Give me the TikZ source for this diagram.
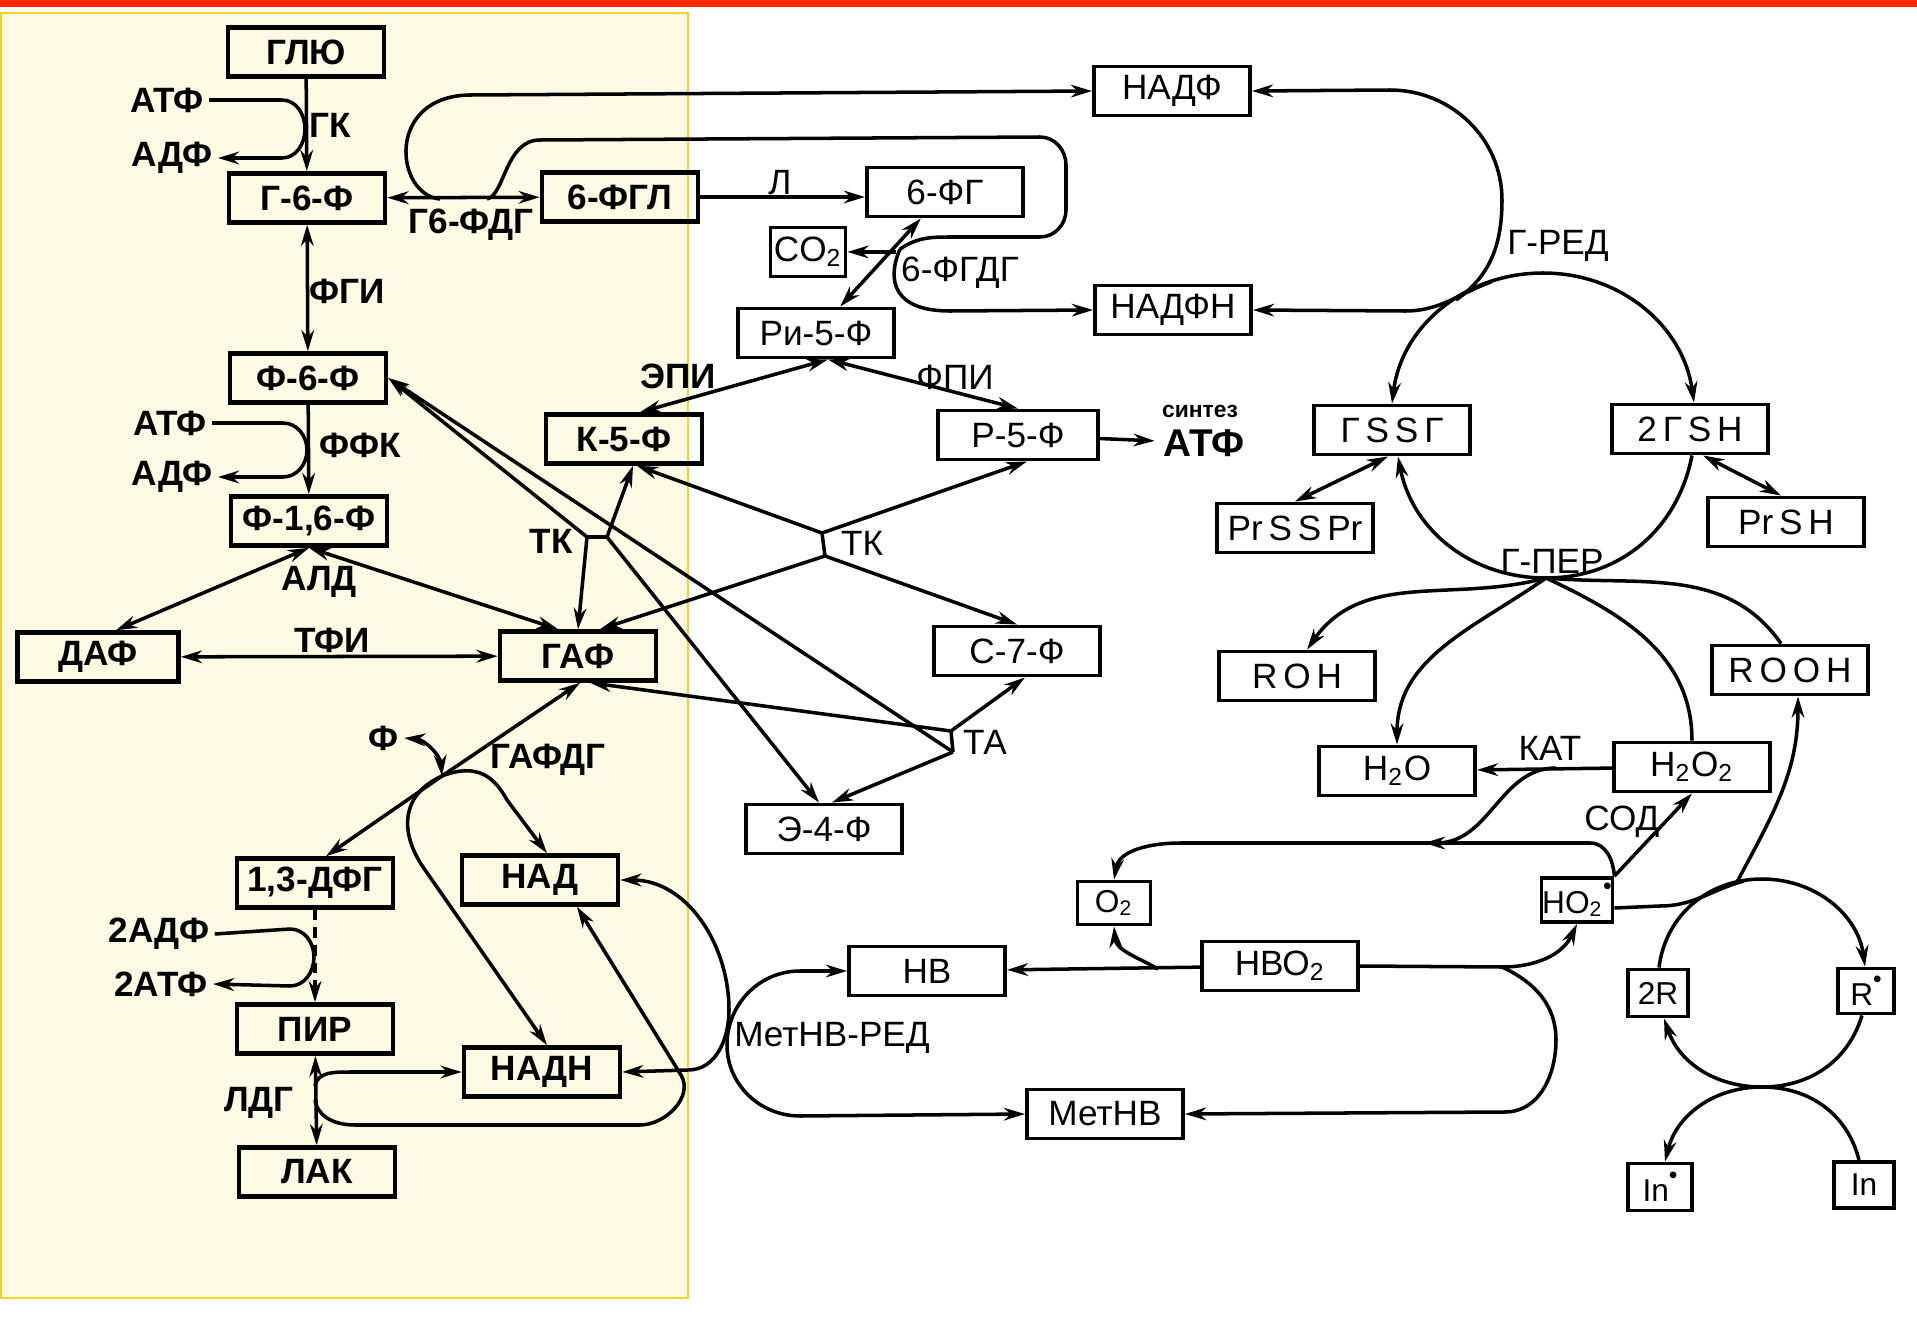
\documentclass[tikz,border=0pt]{standalone}
\usepackage{fontspec}
\setmainfont{Liberation Sans}
\usetikzlibrary{arrows.meta,calc}
\definecolor{paper}{RGB}{252,250,226}
\definecolor{frame}{RGB}{246,210,40}
\definecolor{topbar}{RGB}{255,40,0}
\newcommand{\rad}{\raisebox{1.1ex}{\scriptsize\textbullet}}
\begin{document}
\begin{tikzpicture}[x=0.01cm,y=-0.01cm,line width=1pt,>={Stealth[length=6pt,width=3.6pt]}]
  \useasboundingbox (0,0) rectangle (1917,1321);
  \fill[topbar] (0,0) rectangle (1917,7);
  \filldraw[fill=paper,draw=frame,line width=0.8pt] (1,13) rectangle (688,1298);
  \begin{scope}[every node/.style={draw,line width=1.3pt,font=\bfseries\fontsize{10}{12}\selectfont,minimum width=1.56cm,minimum height=0.49cm,inner sep=0pt}]
  \node (glu) at (306,52) {ГЛЮ};
  \node (g6f) at (307,198) {Г-6-Ф};
  \node (fgl) at (620,197) {6-ФГЛ};
  \node (f6f) at (308,378) {Ф-6-Ф};
  \node (k5f) at (624,439) {К-5-Ф};
  \node (f16f) at (309,521) {Ф-1,6-Ф};
  \node[minimum width=1.61cm] (daf) at (98,657) {ДАФ};
  \node (gaf) at (578,656) {ГАФ};
  \node (dfg) at (315,883) {1,3-ДФГ};
  \node (nad) at (540,880) {НАД};
  \node (pir) at (315,1029) {ПИР};
  \node (nadh) at (542,1072) {НАДН};
  \node (lak) at (317,1172) {ЛАК};
  \end{scope}
  \begin{scope}[every node/.style={draw,line width=1.1pt,font=\fontsize{10}{12}\selectfont,minimum width=1.56cm,minimum height=0.49cm,inner sep=0pt}]
  \node (nadf) at (1172,91) {НАДФ};
  \node (fg) at (945,192) {6-ФГ};
  \node[minimum width=0.75cm] (co2) at (808,252) {CO\textsubscript{2}};
  \node (ri5f) at (816,333) {Ри-5-Ф};
  \node (nadfh) at (1173,310) {НАДФН};
  \node[minimum width=1.6cm] (r5f) at (1018,435) {Р-5-Ф};
  \node[minimum width=1.66cm] (s7f) at (1017,651) {С-7-Ф};
  \node (e4f) at (824,829) {Э-4-Ф};
  \node (gssg) at (1392,430) {Г\,S\,S\,Г};
  \node (gsh) at (1690,429) {2\,Г\,S\,H};
  \node (prss) at (1295,528) {Pr\,S\,S\,Pr};
  \node (prsh) at (1786,522) {Pr\,S\,H};
  \node (roh) at (1297,676) {R\,O\,H};
  \node (rooh) at (1790,670) {R\,O\,O\,H};
  \node (h2o) at (1397,771) {H\textsubscript{2}O};
  \node (h2o2) at (1692,767) {H\textsubscript{2}O\textsubscript{2}};
  \node[minimum width=0.73cm,minimum height=0.43cm,font=\fontsize{9}{10}\selectfont] (o2) at (1114,903) {O\textsubscript{2}};
  \node[minimum width=0.71cm,minimum height=0.44cm,font=\fontsize{9}{10}\selectfont] (ho2) at (1577,900) {HO\textsubscript{2}\rad};
  \node (hb) at (927,971) {НВ};
  \node (hbo2) at (1280,966) {НВО\textsubscript{2}};
  \node (methb) at (1105,1114) {МетНВ};
  \node[minimum width=0.6cm,minimum height=0.47cm,font=\fontsize{9}{10}\selectfont] (r2) at (1658,993) {2R};
  \node[minimum width=0.56cm,minimum height=0.45cm,font=\fontsize{9}{10}\selectfont] (rr) at (1866,991) {R\rad};
  \node[minimum width=0.64cm,minimum height=0.47cm,font=\fontsize{9}{10}\selectfont] (ini) at (1660,1187) {In\rad};
  \node[minimum width=0.6cm,minimum height=0.46cm,font=\fontsize{9}{10}\selectfont] (inn) at (1864,1185) {In};
  \end{scope}
  \begin{scope}[every node/.style={font=\bfseries\fontsize{10}{12}\selectfont,inner sep=1pt}]
  \node (atfa) at (167,100) {АТФ};
  \node (adfa) at (172,158) {АДФ};
  \node (gk) at (330,125) {ГК};
  \node (g6fdg) at (471,225) {Г6-ФДГ};
  \node (fgi) at (347,291) {ФГИ};
  \node (atfb) at (170,423) {АТФ};
  \node (adfb) at (172,477) {АДФ};
  \node (ffk) at (360,445) {ФФК};
  \node (ald) at (319,582) {АЛД};
  \node (tfi) at (332,640) {ТФИ};
  \node (tkl) at (551,541) {ТК};
  \node (epi) at (678,376) {ЭПИ};
  \node (gafdg) at (548,760) {ГАФДГ};
  \node (fi) at (384,738) {Ф};
  \node (adfc) at (159,934) {2АДФ};
  \node (atfc) at (161,984) {2АТФ};
  \node (ldg) at (259,1103) {ЛДГ};
  \end{scope}
  \begin{scope}[every node/.style={font=\fontsize{10}{12}\selectfont,inner sep=1pt}]
  \node (lakt) at (780,183) {Л};
  \node (fgdg) at (960,273) {6-ФГДГ};
  \node (fpi) at (955,377) {ФПИ};
  \node[font=\bfseries\fontsize{6.5}{7}\selectfont,inner sep=0pt] (synt) at (1200,411) {синтез};
  \node[font=\bfseries\fontsize{11}{13}\selectfont,inner sep=0pt] (atfd) at (1204,443) {АТФ};
  \node (tkr) at (862,543) {ТК};
  \node (ta) at (985,742) {ТА};
  \node (metred) at (832,1038) {МетНВ-РЕД};
  \node (gred) at (1558,246) {Г-РЕД};
  \node (gperl) at (1552,561) {Г-ПЕР};
  \node (kat) at (1550,748) {КАТ};
  \node (sod) at (1622,822) {СОД};
  \end{scope}
  \coordinate (gd1) at (440,199);
  \coordinate (gd2) at (487,199);
  \coordinate (j6) at ($(fg.south)!0.35!(ri5f.north)$);
  \coordinate (j6b) at ($(fg.south)!0.38!(ri5f.north)$);
  \coordinate (riap) at ($(ri5f.south)+(12,0)$);
  \coordinate (tkl1) at (587,537);
  \coordinate (tkl2) at (607,537);
  \coordinate (tkr1) at (822,533);
  \coordinate (tkr2) at (825,556);
  \coordinate (ta1) at (951,731);
  \coordinate (ta2) at (953,752);
  \coordinate (gj) at (442,776);
  \coordinate (lj1) at (315,1086);
  \coordinate (lj2) at (315,1100);
  \coordinate (gtop) at (1543,273);
  \coordinate (gper) at (1546,578);
  \coordinate (gm1) at (1456,300);
  \coordinate (gm2) at (1491,282);
  \coordinate (kj) at (1556,768);
  \coordinate (kl) at (1424,843);
  \coordinate (hj1) at (1158,969);
  \coordinate (hj2) at (1502,967);
  \coordinate (rtop) at (1762,879);
  \coordinate (rbot) at (1762,1087);
  \coordinate (rp) at (1744,881);
  \coordinate (rq) at (1737,882);
  \begin{scope}[every edge/.style={draw=black,line width=1pt}]
  \path (glu) edge[->] (g6f);
  \path (g6f) edge[<->] (f6f);
  \path (f6f) edge[->] (f16f);
  \path (g6f) edge[<->] (fgl);
  \path (daf) edge[<->] (gaf);
  \path (pir) edge[<->] (lak);
  \path (dfg) edge[->,densely dashed] (pir);
  \path (h2o2) edge[->] (h2o);
  \path (hbo2) edge[->] (hb);
  \path (fg) edge[<->] (ri5f);
  \path (r5f) edge[->,shorten >=2pt] (atfd);
  \path (tkl1) edge (tkl2);
  \path (tkr1) edge (tkr2);
  \path (ta1) edge (ta2);
  \end{scope}
  \draw[->] (atfa.east) -- (282,100) to[out=0,in=90] (305,129) to[out=-90,in=0] (282,158) -- (adfa.east);
  \draw[->] (atfb.east) -- (283,423) to[out=0,in=90] (307,450) to[out=-90,in=0] (283,477) -- (adfb.east);
  \draw[<->] (f16f.south) -- ($(daf.north)+(18,0)$);
  \draw[<->] (f16f.south) -- ($(gaf.north)+(-20,0)$);
  \draw[->] (gd1) .. controls (395,195) and (385,96) .. (470,95) -- (nadf.west);
  \draw (gd2) .. controls (505,195) and (505,140) .. (540,140) -- (1040,137) to[out=0,in=90] (1066,165) -- (1066,210) to[out=-90,in=0] (1040,237) -- (950,237) to[out=180,in=35] (j6);
  \draw[->] (fgl.east) -- (fgl.east -| fg.west);
  \draw[->] (j6b) -- (j6b -| co2.east);
  \draw[->] (j6) .. controls (886,282) and (895,311) .. (950,311) -- (nadfh.west);
  \draw[<->] (riap) -- ($(k5f.north)+(16,0)$);
  \draw[<->] (riap) -- (r5f.north);
  \draw[->] (tkl1) -- (f6f.east);
  \draw[->] (tkl1) -- (gaf.north);
  \draw[->] (tkl2) -- ($(k5f.south)+(9,0)$);
  \draw[->] (tkl2) -- ($(e4f.north)+(-5,0)$);
  \draw[->] (tkr1) -- ($(k5f.south)+(13,0)$);
  \draw[->] (tkr1) -- ($(r5f.south)+(9,0)$);
  \draw[->] (tkr2) -- ($(gaf.north)+(22,0)$);
  \draw[->] (tkr2) -- (s7f.north);
  \draw[->] (ta1) -- ($(s7f.south)+(8,0)$);
  \draw[->] (ta1) -- ($(gaf.south)+(12,0)$);
  \draw[->] (ta2) -- (f6f.east);
  \draw[->] (ta2) -- ($(e4f.north)+(8,0)$);
  \draw[->] (gj) -- ($(gaf.south)+(2,0)$);
  \draw[->] (gj) -- ($(dfg.north)+(11,0)$);
  \draw[<->] (fi.east) to[out=-5,in=95] (gj);
  \draw[->] (gj) .. controls (478,762) and (495,778) .. (507,800) -- ($(nad.north)+(7,0)$);
  \draw[->] (gj) .. controls (400,795) and (400,833) .. (423,867) -- ($(nadh.north)+(5,0)$);
  \draw[->] (adfc.east) -- (290,929) to[out=0,in=90] (314,957) to[out=-90,in=0] (290,986) -- (atfc.east);
  \draw[->] (lj1) to[out=80,in=180] (350,1072) -- (nadh.west);
  \draw[->] (lj2) to[out=-80,in=180] (355,1125) -- (640,1125) to[out=0,in=-59] (681,1075) -- ($(nad.south)+(37,0)$);
  \draw[<->] (nad.east) to[out=0,in=90] (729,1010) to[out=-90,in=0] (688,1070) -- (nadh.east);
  \draw[<->] (hb.west) -- (800,971) to[out=180,in=90] (727,1045) to[out=-90,in=180] (800,1116) -- (methb.west);
  \draw[->] (hj1) to[out=150,in=-85] (o2.south);
  \draw[->] (hbo2.east) -- (hj2) to[out=0,in=-115] (ho2.south);
  \draw[->] (hj2) to[out=-25,in=90] (1556,1040) to[out=-90,in=0] (1505,1112) -- (methb.east);
  \draw[->] (ho2.north east) to[out=95,in=0] (1590,843) -- (1180,843) to[out=180,in=80] (o2.north);
  \draw[->] (ho2.north east) -- (h2o2.south);
  \draw[->] (kj) .. controls (1500,768) and (1490,843) .. (kl);
  \draw[->] (gper) to[out=195,in=55] ($(roh.north)+(10,0)$);
  \draw[->] (gper) to[out=215,in=90] (h2o.north);
  \draw (h2o2.north) to[out=90,in=-25] (gper);
  \draw ($(rooh.north)+(-9,0)$) to[out=125,in=-5] (gper);
  \draw[->] (gtop) to[out=180,in=83] (gssg.north);
  \draw[->] (gtop) to[out=0,in=98] ($(gsh.north)+(4,0)$);
  \draw[->] (gper) to[out=180,in=-79] ($(gssg.south)+(6,0)$);
  \draw ($(gsh.south)+(2,0)$) to[out=-101,in=0] (gper);
  \draw[<-] (nadf.east) -- (1390,90) to[out=0,in=90] (1502,200) to[out=-90,in=35] (gm1);
  \draw[->] (gm2) to[out=200,in=0] (1405,311) -- (nadfh.east);
  \draw[<->] ($(gssg.south)+(-4,0)$) -- (prss.north);
  \draw[<->] ($(gsh.south)+(13,0)$) -- ($(prsh.north)+(-5,0)$);
  \draw ($(r2.north)+(1,0)$) to[out=83,in=180] (rtop);
  \draw[->] (rtop) to[out=0,in=98] ($(rr.north)+(-1,0)$);
  \draw ($(rr.south)+(-4,0)$) to[out=253,in=0] (rbot);
  \draw[->] (rbot) to[out=180,in=-71] ($(r2.south)+(6,0)$);
  \draw[->] (rbot) to[out=180,in=76] ($(ini.north)+(5,0)$);
  \draw ($(inn.north)+(-5,0)$) to[out=104,in=0] (rbot);
  \draw ($(ho2.east)+(0,8)$) -- (1660,906) to[out=0,in=195] (rp);
  \draw[->] (rq) to[out=62,in=-90] ($(rooh.south)+(8,0)$);
\end{tikzpicture}
\end{document}
